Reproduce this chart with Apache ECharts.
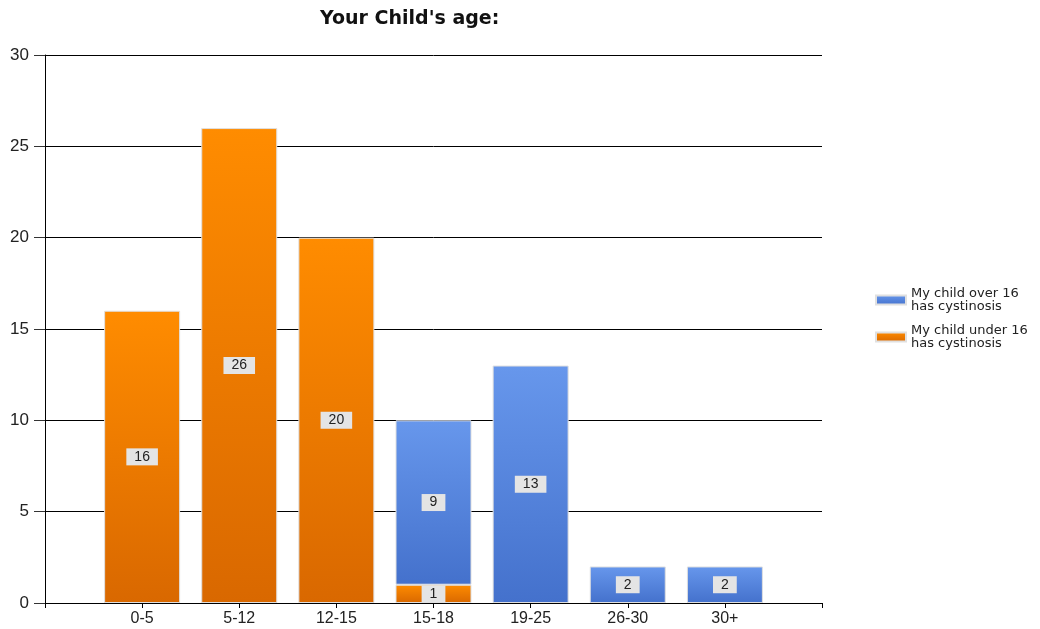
<!DOCTYPE html>
<html>
<head>
<meta charset="utf-8">
<script src="https://cdn.jsdelivr.net/npm/echarts@6/dist/echarts.min.js"></script>
<style>html,body{margin:0;padding:0;background:#fff}#c{width:1040px;height:629px}</style>
</head>
<body>
<div id="c"></div>
<script>
var categories = ['0-5', '5-12', '12-15', '15-18', '19-25', '26-30', '30+'];
var over16 = [0, 0, 0, 9, 13, 2, 2];
var under16 = [16, 26, 20, 1, 0, 0, 0];
var yTicks = { min: 0, max: 30, interval: 5 };

var FONT = 'Liberation Sans, Arial, sans-serif';
var WIDE = 'DejaVu Sans, Verdana, sans-serif';
// pad with empty slots at both ends so bars sit at positions 1..7 of 0..8
var cats = [''].concat(categories).concat(['']);
function pad(a) { return [null].concat(a.map(function (v) { return v === 0 ? null : v; })).concat([null]); }

function grad(top, bottom) {
  return new echarts.graphic.LinearGradient(0, 0, 0, 1, [
    { offset: 0, color: top }, { offset: 1, color: bottom }
  ]);
}
var labelStyle = {
  show: true, position: 'inside', color: '#222', fontFamily: FONT, fontSize: 14, lineHeight: 14,
  backgroundColor: '#e4e4e4', padding: [2, 8, 1, 8],
  formatter: function (p) { return p.value == null ? '' : p.value; }
};

var chart = echarts.init(document.getElementById('c'), null, { renderer: 'canvas' });
chart.setOption({
  animation: false,
  title: {
    text: "Your Child's age:", left: 315, top: 5,
    textStyle: { fontFamily: WIDE, fontSize: 19, fontWeight: 'bold', color: '#111' }
  },
  legend: {
    orient: 'vertical', left: 870, top: 282, itemWidth: 30, itemHeight: 9, itemGap: 11,
    icon: 'rect',
    data: ['My child over 16\nhas cystinosis', 'My child under 16\nhas cystinosis'],
    textStyle: { fontFamily: WIDE, fontSize: 13, color: '#222', lineHeight: 13 }
  },
  grid: { left: 45, right: 218, top: 55, bottom: 26, containLabel: false },
  xAxis: {
    type: 'category', data: cats, boundaryGap: false,
    axisLine: { lineStyle: { color: '#000', width: 1 } },
    axisTick: { show: true, length: 5, lineStyle: { color: '#000' }, interval: 0 },
    axisLabel: { fontFamily: FONT, fontSize: 16, color: '#222', margin: 8, interval: 0 },
    splitLine: { show: false }
  },
  yAxis: {
    type: 'value', min: yTicks.min, max: yTicks.max, interval: yTicks.interval,
    axisLine: { show: true, lineStyle: { color: '#000', width: 1 } },
    axisTick: { show: true, length: 11, lineStyle: { color: '#333' } },
    axisLabel: { fontFamily: FONT, fontSize: 17, color: '#222', margin: 16 },
    splitLine: { show: true, lineStyle: { color: '#000', width: 1 } }
  },
  series: [
    {
      name: 'My child under 16\nhas cystinosis', type: 'bar', stack: 'a', barWidth: 76,
      data: pad(under16),
      itemStyle: { color: grad('#ff8c00', '#d96800'), borderColor: '#e0e0e0', borderWidth: 1 },
      label: labelStyle
    },
    {
      name: 'My child over 16\nhas cystinosis', type: 'bar', stack: 'a', barWidth: 76,
      data: pad(over16),
      itemStyle: { color: grad('#6797ec', '#4471cc'), borderColor: '#e0e0e0', borderWidth: 1 },
      label: labelStyle
    }
  ]
});
</script>
</body>
</html>
